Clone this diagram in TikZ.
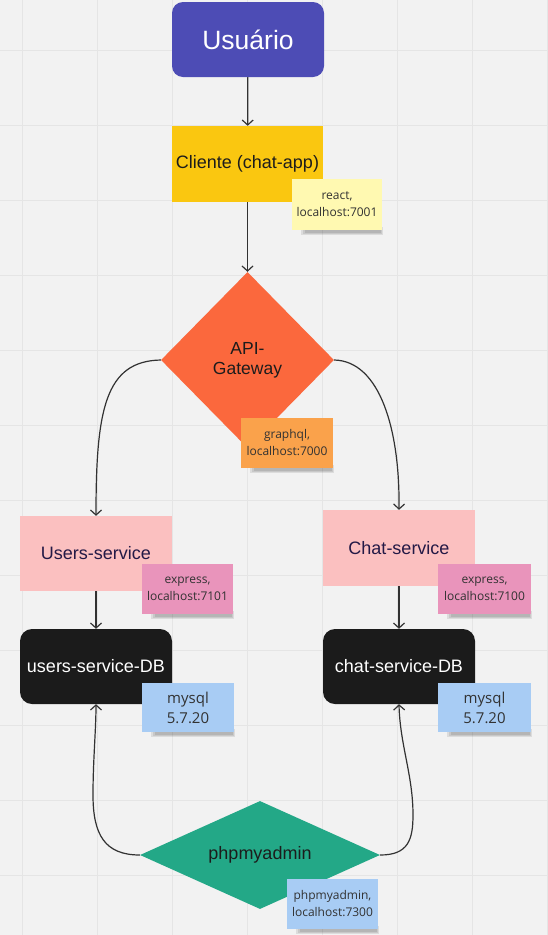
\documentclass[tikz,border=0pt]{standalone}
\usepackage{fontspec}
\setmainfont{Liberation Sans}
\newfontfamily\stickyfont{Open Sans}
\usetikzlibrary{shapes.geometric,arrows.meta,calc}
\definecolor{bgc}{RGB}{242,242,242}
\definecolor{gridc}{RGB}{229,229,229}
\definecolor{userc}{RGB}{77,76,181}
\definecolor{clientc}{RGB}{250,199,16}
\definecolor{yellowst}{RGB}{255,249,177}
\definecolor{apic}{RGB}{251,104,61}
\definecolor{orangest}{RGB}{250,162,75}
\definecolor{servc}{RGB}{251,192,192}
\definecolor{servtext}{RGB}{35,25,70}
\definecolor{pinkst}{RGB}{233,148,187}
\definecolor{dbc}{RGB}{27,27,27}
\definecolor{bluest}{RGB}{168,204,244}
\definecolor{phpc}{RGB}{35,168,135}
\definecolor{linec}{RGB}{50,50,50}
\definecolor{sttext}{RGB}{50,50,50}
\definecolor{darktext}{RGB}{28,28,28}
\pgfdeclarelayer{shd}
\pgfdeclarelayer{stk}
\pgfsetlayers{main,shd,stk}
\tikzset{
  gridline/.style={draw=gridc, line width=1pt},
  boxnode/.style={minimum width=152pt, minimum height=75pt, inner sep=0pt, align=center,
    font=\fontsize{18}{21}\selectfont},
  stickynode/.style={minimum width=91pt, minimum height=50pt, inner sep=0pt, align=center,
    text=sttext, font=\stickyfont\fontsize{12}{17}\selectfont},
  bigsticky/.style={font=\stickyfont\fontsize{15}{20}\selectfont},
  conn/.style={draw=linec, line width=1.2pt, -{Straight Barb[length=5pt,width=11pt]}},
  shadowfill/.style={fill=black, opacity=0.09},
}
\begin{document}
\begin{tikzpicture}[x=1pt,y=-1pt]
\useasboundingbox (0,0) rectangle (548,935);
\fill[bgc] (0,0) rectangle (548,935);
\foreach \gx in {22,97,...,547} \draw[gridline] (\gx,0) -- (\gx,935);
\foreach \gy in {50,125,...,925} \draw[gridline] (0,\gy) -- (548,\gy);

% main nodes
\node[boxnode, fill=userc, rounded corners=11pt, text=white, font=\fontsize{26.5}{30}\selectfont] (user) at (248,39.5) {Usuário};
\node[boxnode, fill=clientc, text=darktext, minimum width=151pt, minimum height=76pt] (client) at (247.5,164) {Cliente (chat-app)};
\node[diamond, fill=apic, inner sep=0pt, minimum width=173pt, minimum height=176pt, text=darktext, align=center,
  font=\fontsize{17.5}{20}\selectfont] (api) at (247.5,360) {API-\\Gateway};
\node[boxnode, fill=servc, text=servtext] (users) at (96,553.5) {Users-service};
\node[boxnode, fill=dbc, text=white, rounded corners=12pt] (usersdb) at (96,666.5) {users-service-DB};
\node[boxnode, fill=servc, text=servtext, minimum height=76pt] (chat) at (399,548) {Chat-service};
\node[boxnode, fill=dbc, text=white, rounded corners=12pt] (chatdb) at (399,666.5) {chat-service-DB};
\node[diamond, fill=phpc, inner sep=0pt, minimum width=240pt, minimum height=108pt, aspect=2.2, text=darktext,
  font=\fontsize{18}{21}\selectfont] (php) at (260,855) {phpmyadmin};

% connectors
\draw[conn] (user) -- (client);
\draw[conn] (client) -- (api.north);
\draw[conn] (api.west) .. controls (105,361) and (96,410) .. (users.north);
\draw[conn] (api.east) .. controls (380,361) and (400,430) .. (chat.north);
\draw[conn] (users) -- (usersdb);
\draw[conn] (chat) -- (chatdb);
\draw[conn] (php.west) .. controls (105,855) and (93,835) .. (93,795) .. controls (93,760) and (96,730) .. (usersdb.south);
\draw[conn] (php.east) .. controls (408,855) and (413,840) .. (413,815) .. controls (413,775) and (400,745) .. (chatdb.south);

% stickies
\begin{pgfonlayer}{stk}
\node[stickynode, fill=yellowst, minimum width=90pt, minimum height=51pt] (s1) at (337,204.5) {react,\\localhost:7001};
\node[stickynode, fill=orangest, minimum width=92pt] (s2) at (287,443) {graphql,\\localhost:7000};
\node[stickynode, fill=pinkst] (s3) at (187.5,589) {express,\\localhost:7101};
\node[stickynode, bigsticky, fill=bluest, minimum width=92pt, minimum height=49pt] (s4) at (188,707.5) {mysql\\5.7.20};
\node[stickynode, fill=pinkst, minimum width=93pt] (s5) at (484.5,589) {express,\\localhost:7100};
\node[stickynode, bigsticky, fill=bluest, minimum width=93pt, minimum height=49pt] (s6) at (484.5,707.5) {mysql\\5.7.20};
\node[stickynode, fill=bluest] (s7) at (332.5,904) {phpmyadmin,\\localhost:7300};
\end{pgfonlayer}
\begin{pgfonlayer}{shd}
\foreach \s in {s1,s2,s3,s4,s5,s6,s7}{
  \fill[shadowfill] ($(\s.south west)+(9,-3)$) rectangle ($(\s.south east)+(1,5)$);
  \fill[shadowfill] ($(\s.south west)+(11,-3)$) rectangle ($(\s.south east)+(0,4)$);
  \fill[shadowfill] ($(\s.south west)+(13,-3)$) rectangle ($(\s.south east)+(-1,3)$);
}
\end{pgfonlayer}
\end{tikzpicture}
\end{document}
